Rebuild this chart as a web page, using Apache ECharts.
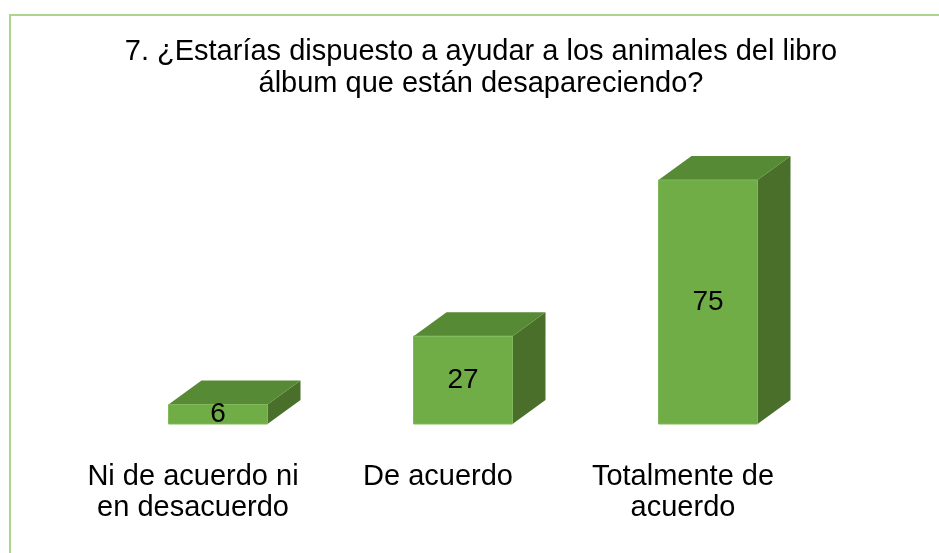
<!DOCTYPE html>
<html>
<head>
<meta charset="utf-8">
<script src="https://cdn.jsdelivr.net/npm/echarts@6/dist/echarts.min.js"></script>
<style>
html,body{margin:0;padding:0;background:#fff;}
#chart{width:939px;height:553px;}
</style>
</head>
<body>
<div id="chart"></div>
<script>
const titleLines = ['7. ¿Estarías dispuesto a ayudar a los animales del libro', 'álbum que están desapareciendo?'];
const categories = ['Ni de acuerdo ni\nen desacuerdo', 'De acuerdo', 'Totalmente de\nacuerdo'];
const values = [6, 27, 75];

const FONT = "'Liberation Sans', Arial, sans-serif";
const DX = 33, DY = 24;
const FRONT = '#70ad47', TOP = '#578a35', SIDE = '#496f2b';

const chart = echarts.init(document.getElementById('chart'), null, {renderer: 'canvas'});

chart.setOption({
  backgroundColor: '#ffffff',
  animation: false,
  grid: {left: 95.5, right: 108.5, top: 163.7, bottom: 129},
  xAxis: {
    type: 'category',
    data: categories,
    axisLine: {show: false},
    axisTick: {show: false},
    axisLabel: {
      margin: 37,
      fontFamily: FONT,
      fontSize: 29,
      lineHeight: 31,
      color: '#000',
      padding: [0, 50, 0, 0],
      interval: 0
    }
  },
  yAxis: {
    type: 'value',
    min: 0,
    max: 80,
    show: false,
    splitLine: {show: false}
  },
  graphic: [
    {type: 'rect', shape: {x: 10, y: 15, width: 1000, height: 1000}, style: {fill: 'none', stroke: '#abd48f', lineWidth: 2}, z: 0},
    {type: 'text', x: 481, y: 51.5, style: {text: titleLines[0], font: '29px ' + FONT, fill: '#000', align: 'center', verticalAlign: 'middle'}},
    {type: 'text', x: 481, y: 83.5, style: {text: titleLines[1], font: '29px ' + FONT, fill: '#000', align: 'center', verticalAlign: 'middle'}}
  ],
  series: [{
    type: 'custom',
    data: values.map((v, i) => [i, v]),
    encode: {x: 0, y: 1},
    renderItem: function (params, api) {
      const top = api.coord([api.value(0), api.value(1)]);
      const base = api.coord([api.value(0), 0]);
      const w = api.size([1, 0])[0] * 0.404;
      const cx = top[0], ty = top[1], by = base[1];
      const l = cx - w / 2, r = cx + w / 2;
      return {
        type: 'group',
        children: [
          {type: 'polygon', shape: {points: [[r, ty], [r + DX, ty - DY], [r + DX, by - DY], [r, by]]}, style: {fill: SIDE}},
          {type: 'polygon', shape: {points: [[l, ty], [l + DX, ty - DY], [r + DX, ty - DY], [r, ty]]}, style: {fill: TOP}},
          {type: 'rect', shape: {x: l, y: ty, width: w, height: by - ty}, style: {fill: FRONT, stroke: '#80b95b', lineWidth: 1}},
          {type: 'text', x: cx, y: (ty + by) / 2, style: {text: String(api.value(1)), font: '28px ' + FONT, fill: '#000', align: 'center', verticalAlign: 'middle'}}
        ]
      };
    }
  }]
});
</script>
</body>
</html>
